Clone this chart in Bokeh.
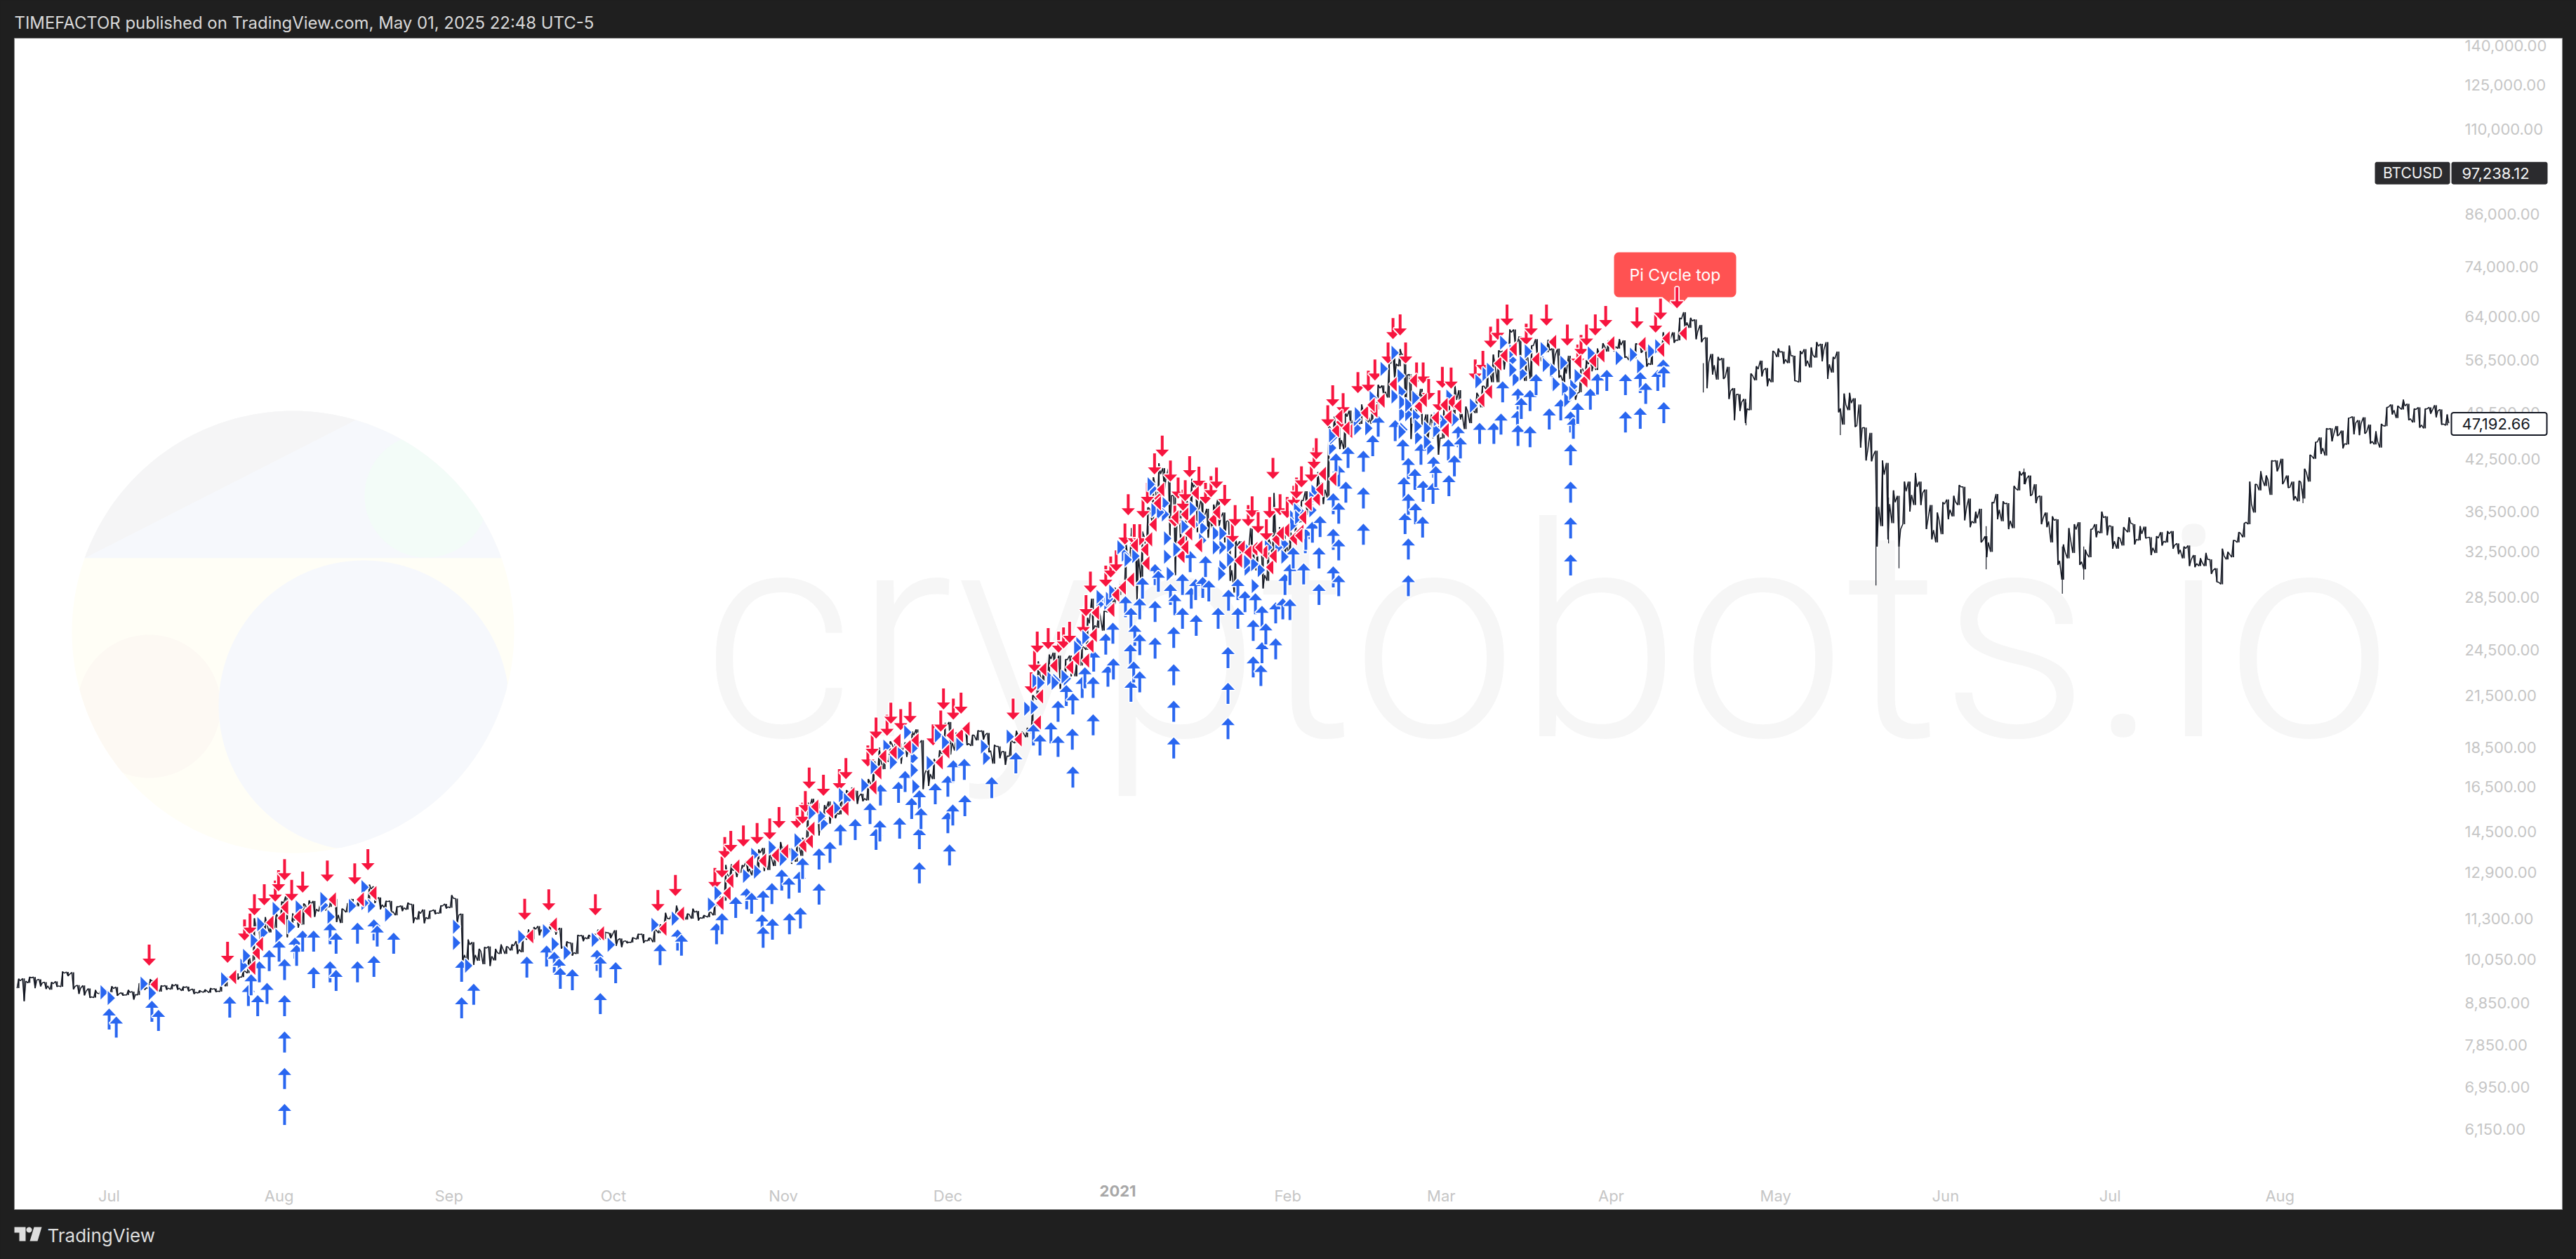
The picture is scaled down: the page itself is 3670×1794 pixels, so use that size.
import math
import numpy as np
from bokeh.plotting import figure
from bokeh.embed import file_html
from bokeh.resources import INLINE
from bokeh.core.properties import value
from bokeh.models import FixedTicker, NumeralTickFormatter, ColumnDataSource

# ---------------- price data (daily range, first day = 2020-06-14, day 0 = 2020-07-01) ----------------
first_day = -17
day_low = [
 9240,8900,9380,9240,9290,9220,9200,9280,9280,9570,9210,9090,9050,8990,8990,9090,9090,
 9130,9040,9050,9060,8940,9060,9200,9230,9170,9150,9200,9210,9200,9170,9160,9090,9110,9130,9120,9140,9150,9290,9460,9470,9540,9650,9880,10600,10860,10850,10980,
 11200,10700,11000,11000,11100,11530,11350,11530,11560,11680,11180,11150,11500,11630,11700,11700,11840,11810,11600,11650,11480,11400,11540,11590,11150,11260,11140,11280,11440,11460,11630,
 11650,11150,9960,10000,9880,10000,9900,9850,10010,10200,10200,10300,10200,10250,10630,10640,10760,10810,10890,10780,10360,10350,10150,10200,10580,10650,10650,10630,10650,10670,
 10440,10400,10520,10540,10640,10530,10590,10550,10830,11050,11280,11200,11370,11260,11290,11230,11300,11340,11400,11700,11890,12700,12730,12890,12900,12790,13060,12950,12990,13140,13420,
 13600,13220,13300,13530,14100,15200,14350,14720,14850,15080,15250,15470,15990,15720,15840,15880,16430,17200,17370,17750,18380,17650,18000,18050,18480,16400,16550,16880,17570,18180,
 18120,18330,18900,18620,18580,18880,18920,18240,17650,17930,17590,18030,18730,19000,19050,19280,21240,22330,22770,23060,21900,22350,22700,22700,23420,24500,25800,26100,25900,27320,27950,
 28700,29000,32000,28100,29900,32500,35500,36600,38700,34000,30400,32500,32400,36700,34400,35400,33850,34800,35000,33400,29900,28900,31400,30900,31900,30800,29250,29900,31950,32800,32200,
 32300,33400,35400,36150,36600,38000,37300,38000,45000,43700,43700,46200,46200,47000,45600,47000,49000,50900,50700,53200,55500,47600,45000,47100,46700,44200,45100,43000,
 45100,47100,47850,47600,46300,47100,48500,49300,51900,53000,53000,55000,56100,59000,54600,53200,53300,57000,56300,57800,55500,53700,53000,52900,50400,51500,53900,54700,54900,57000,57900,
 57900,58400,56900,56500,56800,57700,55450,55750,57700,58000,59200,59400,59800,61300,62000,60000,59500,52100,54200,53400,53500,50500,47500,48800,47100,48900,53300,53900,52400,53000,
 57000,55900,56000,53200,53000,55500,55300,56900,56300,53500,54500,48600,46900,48900,46600,43900,42300,42200,33000,35000,33700,35300,33000,35200,36500,37200,37200,34700,33700,33400,34200,
 35700,36000,37200,35600,34900,35300,33400,32000,32500,35700,35500,34700,34800,38800,39500,38200,37400,35200,34900,33400,31300,30000,31900,32400,31300,30900,32000,33900,34300,34100,
 32800,32800,33100,34400,33200,33600,33800,32200,32400,33100,33400,32800,32300,31900,31200,31100,31200,31200,30500,29800,29600,31800,32000,33400,33900,35200,36400,38800,39300,38300,41000,
 39500,39100,37700,37600,37900,39800,42500,43100,42900,44700,45400,43800,44300,45600,45500,45700,44400,44300,43900,46700,48300,47800,49000,47500,47200,46500,46400,48400,47900,46900,46800,
]
day_high = [
 9490,9500,9540,9540,9480,9400,9400,9420,9690,9680,9670,9320,9310,9230,9190,9240,9200,
 9290,9270,9120,9190,9150,9370,9370,9480,9450,9310,9310,9340,9340,9280,9280,9220,9180,9200,9240,9230,9410,9540,9620,9640,9730,10200,11300,11250,11340,11170,11450,
 11860,12050,11460,11400,11790,11900,11880,11800,11800,12050,11950,11620,11800,11950,11980,11950,12450,12390,12000,11880,11880,11690,11720,11820,11770,11530,11590,11540,11580,11720,11780,
 12080,11960,11450,10630,10550,10350,10400,10420,10350,10480,10420,10480,10580,10760,10940,11020,11050,11020,11170,11050,10990,10570,10530,10770,10760,10770,10800,10940,10860,10830,
 10920,10660,10590,10690,10800,10800,10680,10960,11100,11480,11400,11720,11540,11450,11620,11540,11400,11500,11800,12030,13180,13200,13020,13170,13340,13230,13780,13840,13620,13680,14080,
 13900,13820,14070,14250,15770,15950,15750,15660,15830,15480,15980,16350,16480,16320,16180,16880,17850,18480,18180,18820,18970,18700,18770,19370,19480,18880,17450,17890,18340,19850,
 19900,19300,19530,19530,19170,19420,19410,19280,18630,18550,18280,18930,19400,19350,19570,21500,23700,23280,24170,24300,24100,23840,24100,23800,24780,26870,28400,27500,27400,29000,29300,
 29600,33300,34800,33600,34450,36940,40300,41950,41370,41300,38200,36600,37800,40100,39700,37900,36800,37250,37800,36400,35600,33800,33500,32900,34800,32900,32550,33800,38500,34900,34300,
 34700,35900,37700,38700,38300,40900,39700,46750,48000,47300,48700,48850,48000,49700,49000,50500,52600,52500,56300,57500,58300,57500,54200,51300,52000,48300,48300,46700,
 49800,50200,52600,51800,49400,49200,51400,52400,54900,57400,58100,58000,61700,61700,60500,56900,58900,60000,59400,59900,58400,58400,55800,57200,53200,55400,56500,56600,58400,59300,59800,
 59500,60000,59800,58500,59250,59500,58600,58200,58900,61200,60700,61200,63800,64850,63800,63500,62500,60300,57500,57000,56800,55400,52100,51200,50500,54350,55500,56400,55200,58000,
 58400,57900,58900,57200,58000,58300,58600,59500,59200,59500,57000,57900,51300,51400,50600,49700,46500,45800,43500,42300,42000,38800,38200,39800,39800,40800,39800,38900,37200,36400,37500,
 37800,38200,39400,39200,37900,36500,36800,34000,37500,38400,37600,37400,39300,41000,40900,40500,39500,38200,36400,36000,35700,33200,34800,35200,35400,32700,34700,35200,36500,36000,
 35000,33900,34900,35900,35200,35000,34950,33900,34000,34400,34500,34500,33300,33000,33100,32200,31900,32400,31800,31000,32800,32500,33600,34400,35300,39800,39500,41000,40500,42300,42300,
 42500,40500,39800,39900,41300,43000,44600,45200,46400,46400,46700,46100,47800,48000,47500,47900,46900,46000,47000,49300,49700,49500,50400,49800,49100,49300,49100,49300,49600,49000,48300,
]
day_close = [
 9440,9430,9520,9460,9380,9300,9360,9300,9650,9620,9290,9240,9160,9010,9110,9190,9140,
 9230,9090,9060,9130,9070,9340,9250,9430,9240,9290,9240,9300,9240,9260,9190,9130,9150,9170,9210,9160,9390,9520,9580,9540,9700,9930,11030,10910,11100,11110,11350,
 11800,11070,11230,11190,11740,11770,11600,11750,11680,11880,11410,11580,11780,11770,11870,11900,12300,11950,11750,11860,11520,11680,11650,11770,11330,11460,11330,11540,11480,11710,11680,
 11970,11410,10170,10470,10170,10280,10370,10130,10240,10360,10400,10440,10330,10680,10790,10950,10940,10940,11080,10920,10420,10530,10240,10740,10690,10730,10780,10700,10840,10780,
 10620,10570,10550,10670,10790,10600,10670,10920,11060,11300,11370,11540,11430,11430,11500,11320,11370,11500,11750,11910,12820,12970,12930,13120,13030,13070,13650,13270,13460,13560,13800,
 13760,13550,14030,14150,15590,15580,14840,15480,15330,15300,15700,16280,16320,16070,15960,16730,17660,17780,17820,18680,18710,18420,18370,19160,18720,17150,17130,17720,18180,19700,
 18760,19220,19440,18700,19150,19370,19170,18320,18550,18260,18040,18800,19170,19270,19440,21380,22830,23130,23870,23480,22740,23820,23250,23720,24690,26450,26280,27040,27370,28840,29000,
 29370,32190,33000,31990,33990,36820,39460,40670,40240,38240,35540,34010,37390,39150,36770,36020,35800,36630,35910,35470,30830,33000,32090,32270,32250,32510,30400,33400,34270,34300,33110,
 33520,35510,37660,36950,38290,39260,38880,46450,46500,44850,47990,47370,47190,48590,47910,49130,52120,51550,55920,55890,57410,54100,48880,49700,47060,46340,46190,45140,
 49590,48440,50360,48370,48760,48880,50970,52390,54880,55850,57800,57230,61190,59000,55640,56910,58910,57660,58080,58100,57350,54080,54340,52300,51310,55070,55840,55780,57620,58790,58800,
 58730,58980,57060,58200,59130,58030,55950,58090,58090,59770,60010,59860,63580,62980,63220,61370,60060,56150,55660,56470,53800,51700,51150,50050,49100,54020,55040,54880,53580,57800,
 57800,56600,57200,53200,57500,56400,57300,58800,58200,55800,56700,49150,49700,49900,46760,46450,43550,42900,37000,40600,37300,37500,34700,38700,38300,39200,38500,35700,34600,35650,37300,
 36700,37550,39200,36850,35500,35800,33600,33400,37400,36700,37340,35550,39020,40520,40160,38350,38050,35820,35480,35600,31680,32500,33680,34660,31590,32280,34700,34500,35870,35040,
 33520,33800,34650,35290,33690,34220,33860,32880,33810,33510,34240,33150,32690,32820,31780,31420,31530,31800,30820,29790,32130,32290,33580,34290,35400,37280,39460,40020,40030,42210,41460,
 39850,39150,38150,39740,40890,42830,44610,43830,46280,45590,45570,44400,47830,47110,47050,45930,44690,44710,46760,49340,48900,49280,49500,47700,48990,46850,49070,48900,48810,46990,47110,
]
# thin wicks: day, upper end of wick, lower end of wick
wick_day  = [290.8, 298.6, 315.8, 322.3, 324.6, 326.5, 342.4, 349.3, 356.3, 360.2, 400.2]
wick_from = [56000, 50000, 49000, 37000, 38000, 36000, 35000, 41330, 33000, 33000, 39000]
wick_to   = [51450, 46800, 45500, 29500, 33300, 31000, 30900, 39500, 28800, 30000, 37400]

# ---------------- signals ----------------
red_arrow_day = [7.3,21.6,24.7,25.7,26.5,28.3,30.3,30.9,32.0,33.3,35.3,39.8,44.8,47.2,75.8,80.2,88.7,100.1,103.3,110.5,111.8,112.3,113.4,115.7,118.2,120.5,122.2,125.5,126.5,127.0,127.7,130.3,133.2,134.4,138.4,139.2,139.9,141.9,142.6,144.4,146.1,150.3,151.7,152.2,154.0,155.4,164.9,168.2,168.8,169.3,171.3,173.2,174.1,175.2,177.7,178.2,179,181.8,182.7,183.7,185.3,187,188,185.9,188.6,189.4,190.7,192.1,193.6,194.4,195,195.9,196.3,197.1,198.8,200,201,202,203.5,204.9,205.4,207.8,208.5,209.6,211.1,211.7,212.3,213.6,214.9,216.1,216.6,217.5,219.3,219.8,220.2,222.3,223.2,225.1,227.8,229.7,230.9,233.3,236.5,234.2,235.5,238.5,239.7,240.7,242.6,243.2,244.8,249.2,250.6,252,253.3,255,258.5,259.4,262.2,266,267.9,268.5,269.5,271.1,273,278.7,282.1,283,286]
red_arrow_price = [9860,9940,10600,10780,11400,11734,11856,12220,12610,11880,12170,12560,12460,12980,11250,11560,11400,11540,12050,12300,12710,13440,13680,13900,14000,14180,14660,14660,14840,15350,16420,16090,16350,16880,17500,18050,18970,19120,19800,19440,19840,18600,19360,20630,20040,20380,20040,21610,23000,24300,24550,24300,24600,25000,25640,27000,28900,29390,30180,30720,33190,33120,33120,36120,35830,37320,40630,42770,39800,34940,37900,36600,37600,40300,39100,37320,38050,39000,37100,33340,35000,35000,35900,34300,33600,35830,40100,36120,35830,37000,37900,39140,39800,41290,42440,46680,49440,48330,51350,51550,53250,55930,55930,60020,60640,52800,52800,50340,48730,52140,52030,53250,54590,58550,59900,62380,59040,60640,62380,58910,55590,57150,58910,60640,62130,61900,61150,63480,65600]

blue_arrow_day = [0,1.3,7.8,9,22,25.4,25.9,27.1,28.8,32,32,32,32,32,27.4,29.2,31,33.9,34.2,35.3,37.3,37.3,40.3,40.3,41.4,41.4,45.3,45.3,48.3,48.3,48.9,51.9,64.3,64.3,66.5,76.2,79.8,81.2,82.1,82.3,84.5,89,89.6,89.6,92.4,100.5,103.7,104.4,110.8,111.8,114.3,116.3,117.2,119.1,119.3,119.3,120.9,121,122.7,124,124.1,125.9,126.1,126.5,129.5,129.5,131.5,133.4,136.1,138.8,139.9,140.6,140.7,144,144.2,145.2,146.4,147.8,147.8,147.8,148.1,150.7,153,153,153.3,153.9,154,156,156.1,161,165.4,168.6,169.8,171.8,173.1,173.1,174.6,175.7,175.8,175.8,177.5,178,179.5,179.5,179.6,181.8,182.2,183.1,183.2,185.4,186.3,186.4,186.4,186.9,187.1,188,188,188,188.5,190.8,190.8,190.8,191.4,193.6,194.2,194.2,194.2,194.2,194.4,195.8,195.8,197.2,197.4,198.2,198.3,199.5,200,200.6,202.3,204.1,204.1,204.1,204.2,205.9,205.9,207.2,208.7,208.7,209.1,210.1,210.3,210.3,211,212.8,212.8,214.1,214.5,215.4,215.4,216,217.9,218.2,218.3,219.5,220.7,220.7,220.9,223.3,223.3,223.3,224.3,224.3,224.3,224.3,223.8,225.6,226,228.8,228.8,228.8,230.5,231.5,234.6,236,236.2,236.4,237,237,237,237,238.2,238.3,239.3,239.6,239.7,241.5,241.6,242,244.3,244.4,245.4,246.1,246.5,250,252.6,253.9,254.2,256.9,257,257,257.6,259.2,259.2,260.3,262.7,264.8,266.6,266.6,266.6,266.6,266.6,267.1,267.9,270.2,271.5,273.2,276.6,276.6,279.3,279.3,280.3,282.5,283.5,283.6,283.6]
blue_arrow_price = [8714,8516,8912,8680,9020,9326,9616,9056,9380,10050,9056,8156,7340,6620,9984,10314,10600,10690,10470,10910,10910,9820,11140,9984,10840,9740,11160,9984,11270,10140,11070,10840,10000,9000,9360,10120,10450,10260,10060,9800,9760,10320,10120,9110,9960,10490,10940,10780,11140,11470,12020,12320,12170,11430,12240,11030,12510,11290,13010,12710,11470,12930,11660,13450,13820,12490,14090,14820,15050,15760,14630,14990,16620,16750,15110,17280,15990,16350,14660,13280,15530,16680,17050,15350,13980,15690,17830,17900,16120,16980,18240,19760,19200,19880,21160,19120,22150,19520,21610,17500,22670,23310,22670,20350,24450,25680,23410,26500,23900,28600,24900,27660,22410,23700,26340,28430,25640,23040,30180,31370,28210,25390,30780,29630,26180,23510,21160,19040,28780,30500,27660,32580,29320,30060,27110,30240,32110,29930,27660,24700,22280,20130,29150,30060,27660,29030,26720,24050,28850,23460,27820,25050,26450,28100,25340,28430,30500,28370,31370,32920,31440,34400,34740,35470,32920,29630,36050,38500,34740,31170,41700,37460,33700,30400,43180,39800,44000,43500,39140,35240,45500,48130,47520,44950,40300,36350,42600,38430,33790,30400,41290,37390,44400,35980,39890,39650,42770,41620,44950,40550,42940,46690,45200,47140,47140,48430,53140,48820,46870,52060,50650,46690,51820,54260,49130,50440,48730,44320,39800,35900,32270,47830,49940,52030,54350,54920,54260,48730,49230,54590,52920,54920,56600,55480,50040]

red_tri_day = [8.2,22.5,26,26.8,27.4,29.3,31.4,32,34.3,36.2,40.7,45.8,48.1,76.7,81,89.6,101,104.2,111.4,112.7,113.2,114.3,116.8,119.2,121.5,123.2,126.5,127.7,128,128.7,131.4,134.2,135.3,139.3,140.2,141.1,143,143.7,145.6,147,151.4,152.6,153.4,155.1,156.3,165.8,169.3,169.7,170.3,172.3,175.2,176.3,178.1,178.9,179.5,179.9,182.7,183.6,184.8,186.3,187,188.9,189.1,189.6,190.4,191.3,191.8,195.5,195.5,196.2,196.9,197.4,198.1,201.3,202,206,206.5,208.8,210.6,211.7,212.3,212.8,214.6,216,217.2,217.7,218.7,220.2,220.8,221.3,223.2,223.7,224.5,226.1,229,230.7,232,234.2,238.8,241.9,243.7,244.2,244.8,246,250.2,251.6,253.3,254.4,256.1,260.2,263.3,267.9,269,269.5,270.6,272.1,273.9,279.6,283,284,287.1,
 191.2,194.4,198.7,196.2,207.7,209.7,213.6,217,224.3,225.6,230.2,237.9,239.7,243.5]
red_tri_price = [9340,9540,9800,10230,10490,11160,11310,11660,11350,11540,11930,11930,12150,10730,11100,10820,10970,11450,11810,12150,12590,13120,13280,13340,13550,13710,13950,14120,14630,15590,15380,15500,16150,16480,17210,18020,18240,18850,18540,18880,17720,18280,19150,19150,19520,18930,19880,21430,23160,23410,23310,23900,23760,24800,25570,27270,27500,28720,29320,30000,33120,32720,31440,33700,35160,37900,38900,32110,33390,36200,34270,35460,38500,35680,36420,31700,32920,32780,32450,31090,32110,33700,34570,33790,34440,35900,37320,37860,38900,40700,40100,46130,47230,46040,48530,48820,50240,52700,49440,47830,46130,47930,50040,49440,50340,51550,55930,57260,58300,56600,59530,56260,53250,54350,56370,57260,59290,59160,58180,60140,61020,
 37390,35900,33120,32920,32450,32920,34270,34050,48020,46410,49640,53250,50340,49640]

blue_tri_day = [-0.9,0.4,7.9,21.1,24.6,25.1,26.5,28.3,30.5,31,33.3,34.7,39.3,40.5,44.4,47.9,51,63.4,63.4,65.6,75.3,79.8,81.4,83.6,88.7,91.6,99.6,103.3,109.9,111.1,116.3,118.3,123,125.1,125.7,130.5,132.8,137.9,139.6,143.1,144.4,146.9,146.9,147.2,149.8,160.1,164.4,167.6,169.1,172.9,174.8,177.1,180.9,182.2,185.4,187.3,190.5,192.7,192.7,193.6,194.8,197.8,199.7,203.2,203.2,207.7,207.8,209.1,210.2,214.5,216.1,219.6,217.3,223.2,223.4,227.8,230.6,232.6,234.6,235.7,236,236.2,237.1,238.5,238.9,241.1,242.2,243.5,245.6,248.9,249.9,254.4,256.1,256.7,258,262.1,263.5,263.8,264,265.4,265.7,266.1,267.2,268,270.4,275.5,278.1,279.4,281.4,282.7,
 184.6,185.9,190.8,190.1,191.8,193.1,193.1,196.3,198.1,199.5,199.4,202,202,203.2,204.6,204.6,203,207.7,209,211.5,213.4,214.5,216.8,220,219.6,216.1,217,171.8,172.6,170,174.4,176.7,178.2,180.8,182.5,183.1,180.8,223.2,227.7,227.9,229.8,234.6,235.9,236,237.1,238.4,235.9,238.8,240.5,240.5,242.3,244.6,251.2,252,256.1,256.1,258,258.9,261.8,262.2,267,117.8,121,128.3,130,133.8,134.7,141.9,145.7,147,151.3,152.6,155.2,159.7,168.8,27.7,39.2,46.7,46.7,6.4]
blue_tri_price = [9130,8980,9110,9480,9860,10140,10600,10840,11610,10750,11030,11660,11730,11350,11710,11710,11420,11030,10530,9860,10710,10890,10490,10230,10620,10470,11090,11290,11760,12150,12770,12930,13410,13570,14150,14840,15530,16580,17470,17720,18200,17940,17320,16520,17680,17940,19080,20680,22410,22410,22550,24900,28240,28060,32250,32110,39000,37390,36200,30500,32720,36800,34800,32920,31090,32720,30960,29450,30840,33260,35900,36650,36580,43850,45200,46410,50650,55080,57680,53950,48330,46230,48330,48020,45200,43860,46130,47320,47620,49540,53140,59410,56490,53480,54350,56050,54920,52920,52700,56050,52030,50340,52360,53950,57590,56820,57370,55480,57930,58780,
 32920,31770,36650,39480,36420,33790,32040,34940,35160,33590,35900,34270,32920,34270,33120,31770,30500,31570,31370,32920,32920,32040,36650,38650,37900,35160,35900,22550,22280,22280,22670,24650,25400,27940,28370,28970,28540,45470,47620,48330,46410,50850,51550,50040,49640,50650,45950,46690,46410,44600,47620,50850,54260,54920,57930,54920,56050,57930,58300,55710,51350,13570,13860,15320,15170,16120,15890,18540,19320,18490,19150,18770,18660,18540,20760,11110,11950,12360,11810,9360]

# ---------------- axis labels ----------------
price_ticks = [140000,125000,110000,86000,74000,64000,56500,48500,42500,36500,32500,28500,24500,21500,18500,16500,14500,12900,11300,10050,8850,7850,6950,6150]
month_days = [0,31,62,92,123,153,215,243,274,304,335,365,396]
month_labels = ["Jul","Aug","Sep","Oct","Nov","Dec","Feb","Mar","Apr","May","Jun","Jul","Aug"]
year_day = 184
year_label = "2021"
last_price = 47192.66
symbol_price = 97238.12

# ---------------- page geometry of the reference ----------------
W, H = 3670, 1794
FRAME_L, FRAME_R, FRAME_T, FRAME_B = 20, 3650, 54, 1723
PX_PER_DAY = 7.81
PX_PER_LN = 494.3
def X(px): return (px - 155) / PX_PER_DAY
def Y(py): return math.exp(math.log(140000) - (py - 64) / PX_PER_LN)
def sy(v): return 64 + (math.log(140000) - math.log(v)) * PX_PER_LN

DARK = "#1f1f1f"
RED = "#F7153F"
BLUE = "#2966F0"
BLACK = "#131722"
GREY = "#c6c6c6"
FONT = "Inter"

p = figure(width=W, height=H, x_range=(X(0), X(W)), y_range=(Y(H), Y(0)),
           y_axis_type="log", y_axis_location="right", output_backend="svg", toolbar_location=None,
           min_border=0, background_fill_color=DARK, border_fill_color=DARK, outline_line_color=None)
p.grid.visible = False

p.yaxis.ticker = FixedTicker(ticks=price_ticks)
p.yaxis.formatter = NumeralTickFormatter(format="0,0.00")
p.yaxis.fixed_location = X(3505)
p.yaxis.major_label_standoff = 0
p.xaxis.ticker = FixedTicker(ticks=month_days)
p.xaxis.major_label_overrides = dict(zip(month_days, month_labels))
p.xaxis.fixed_location = Y(1684)
p.xaxis.major_label_standoff = 0
for ax in (p.xaxis, p.yaxis):
    ax.axis_line_color = None
    ax.major_tick_line_color = None
    ax.minor_tick_line_color = None
    ax.major_label_text_color = GREY
    ax.major_label_text_font = FONT
    ax.major_label_text_font_size = "22px"

# ---------------- white chart panel ----------------
p.patch([X(a) for a in (FRAME_L, FRAME_R, FRAME_R, FRAME_L)], [Y(b) for b in (FRAME_T, FRAME_T, FRAME_B, FRAME_B)],
        fill_color="white", line_color="#8a8a8a", line_width=1)

# ---------------- watermark ----------------
def circle_pts(cx, cy, r, n=160):
    t = np.linspace(0, 2*np.pi, n, endpoint=False)
    return cx + r*np.cos(t), cy + r*np.sin(t)
def wm(px, py, color):
    p.patch([X(a) for a in px], [Y(b) for b in py], fill_color=color, line_color=None)
CX, CY, R = 417, 900, 315
def inside(x, y):
    dx, dy = x - CX, y - CY
    d = np.hypot(dx, dy)
    f = np.minimum(1.0, R / d)
    return CX + dx*f, CY + dy*f
cx_, cy_ = circle_pts(CX, CY, R, 240)
wm(cx_, cy_, "#fffef6")
top = cy_ <= 795
order = np.argsort(np.arctan2(cy_[top]-795, cx_[top]-CX))
wm(cx_[top][order], cy_[top][order], "#f6f8fc")
wedge = (cy_ <= 795) & (cx_ <= 510)
wp = np.argsort(np.arctan2(cy_[wedge]-795, cx_[wedge]-510))
wm(cx_[wedge][wp], cy_[wedge][wp], "#f5f5f6")
tx, ty = inside(*circle_pts(607, 706, 88))
ty = np.minimum(ty, 795)
wm(tx, ty, "#f3fcf8")
ox, oy = inside(*circle_pts(212, 1006, 102))
wm(ox, oy, "#fdf9f3")
bx, by = inside(*circle_pts(518, 1005, 207))
wm(bx, by, "#f6f8fc")
p.text(x=[X(1000)], y=[Y(905)], text=["cryptobots.io"], text_font=value("Roboto Light"), text_font_size="420px",
       text_color="#f6f6f6", text_baseline="alphabetic", text_align="left")

# ---------------- price line ----------------
xs_line, ys_line = [], []
prev = day_close[0]
for i, (lo, hi, cl) in enumerate(zip(day_low, day_high, day_close)):
    d = first_day + i
    a, b = (lo, hi) if cl >= prev else (hi, lo)
    xs_line += [d + 0.2, d + 0.5, d + 0.8]
    ys_line += [a, b, cl]
    prev = cl
p.line(xs_line, ys_line, line_color=BLACK, line_width=1.5)
bar_x = [first_day + i + 0.5 for i in range(len(day_low))]
p.segment(x0=bar_x, y0=day_low, x1=bar_x, y1=day_high, line_color=BLACK, line_width=1.9)
p.segment(x0=wick_day, y0=wick_from, x1=wick_day, y1=wick_to, line_color=BLACK, line_width=1.2)

# ---------------- helpers for shapes that keep their size in pixels ----------------
def rrect(x0, y0, x1, y1, r, pointer=None):
    xs, ys = [], []
    corners = [(x1-r, y0+r, -90), (x1-r, y1-r, 0), (x0+r, y1-r, 90), (x0+r, y0+r, 180)]
    for k, (cx, cy, a0) in enumerate(corners):
        for a in np.linspace(a0, a0+90, 6):
            xs.append(cx + r*math.cos(math.radians(a)))
            ys.append(cy + r*math.sin(math.radians(a)))
        if k == 1 and pointer:
            xs += [pointer[2], pointer[1], pointer[0]]
            ys += [y1, pointer[3], y1]
    return xs, ys

def to_data(pxs, pys):
    return [X(a) for a in pxs], [Y(b) for b in pys]

def arrow_shape(d, v, direction):
    """Arrow whose tip sits at (d, v); direction +1 = tip on top (up arrow), -1 = tip at bottom."""
    hw, hh, sw, total = 9.5, 10.0, 2.0, 30.0
    dx = [0, hw, sw, sw, -sw, -sw, -hw]
    dy = [0, hh, hh, total, total, hh, hh]
    return ([d + a/PX_PER_DAY for a in dx],
            [v * math.exp(-direction * b / PX_PER_LN) for b in dy])

def tri_shape(d, v, direction):
    """Triangle centred on (d, v); direction +1 points right, -1 points left."""
    w, h = 5.2, 10.2
    dx = [direction*w, -direction*w, -direction*w]
    dy = [0, h, -h]
    return ([d + a/PX_PER_DAY for a in dx],
            [v * math.exp(-b / PX_PER_LN) for b in dy])

def draw(days, prices, shape, direction, color):
    xs, ys, la = [], [], []
    for d, v in zip(days, prices):
        a, b = shape(d, v, direction)
        xs += [a, a]; ys += [b, b]; la += [1.0, 0.0]
    src = ColumnDataSource(dict(xs=xs, ys=ys, la=la))
    p.patches(xs="xs", ys="ys", source=src, fill_color=color, line_color="white", line_width=3.5, line_alpha="la")

# ---------------- Pi cycle label under the signals ----------------
bx_, by_ = rrect(2299, 359, 2473, 423, 7, pointer=(2368, 2389, 2404, 440))
bx2, by2 = to_data(bx_, by_)
p.patch(bx2, by2, fill_color="#FF5252", line_color=None)
p.text(x=[X(2386)], y=[Y(391)], text=["Pi Cycle top"], text_font=value(FONT), text_font_size="23px",
       text_color="white", text_align="center", text_baseline="middle")

draw(blue_arrow_day, blue_arrow_price, arrow_shape, 1, BLUE)
draw(red_arrow_day, red_arrow_price, arrow_shape, -1, RED)
draw(blue_tri_day, blue_tri_price, tri_shape, 1, BLUE)
draw(red_tri_day, red_tri_price, tri_shape, -1, RED)

# ---------------- bold year label ----------------
p.text(x=[year_day], y=[Y(1696)], text=[year_label], text_font=value(FONT), text_font_size="22px",
       text_font_style="bold", text_color="#a8a8a8", text_align="center", text_baseline="middle")

# ---------------- price tags ----------------
def tag(x0, x1, yc, fill, line=None, lw=0):
    a, b = rrect(x0, yc-16, x1, yc+16, 3)
    a, b = to_data(a, b)
    p.patch(a, b, fill_color=fill, line_color=line, line_width=lw, level="overlay")
ytag = sy(symbol_price) + 2
tag(3383, 3490, ytag, "#2b2b2e")
tag(3492, 3629, ytag, "#2b2b2e")
p.text(x=[X(3437)], y=[Y(ytag)], text=["BTCUSD"], text_font=value(FONT), text_font_size="21px", text_color="#f2f2f2",
       text_align="center", text_baseline="middle", level="overlay")
p.text(x=[X(3507)], y=[Y(ytag)], text=["97,238.12"], text_font=value(FONT), text_font_size="22px", text_color="#f2f2f2",
       text_align="left", text_baseline="middle", level="overlay")
ylast = sy(last_price) + 2
tag(3492, 3628, ylast, "white", BLACK, 2)
p.text(x=[X(3507)], y=[Y(ylast)], text=["47,192.66"], text_font=value(FONT), text_font_size="22px", text_color=BLACK,
       text_align="left", text_baseline="middle", level="overlay")

# ---------------- header and footer on the dark band ----------------
p.text(x=[X(20)], y=[Y(32)], text=["TIMEFACTOR published on TradingView.com, May 01, 2025 22:48 UTC-5"],
       text_font=value(FONT), text_font_size="23.9px", text_color="#d9d9d9", text_baseline="middle", text_align="left")
p.text(x=[X(67)], y=[Y(1760)], text=["TradingView"],
       text_font=value(FONT), text_font_size="26px", text_color="#dedede", text_baseline="middle", text_align="left")
LOGO = "#dedede"
def logo(xs, ys):
    a, b = to_data(xs, ys)
    p.patch(a, b, fill_color=LOGO, line_color=None)
logo([20,36,36,27,27,20], [1748,1748,1768,1768,1756,1756])
tt = np.linspace(0, 2*np.pi, 24, endpoint=False)
logo(list(41+4*np.cos(tt)), list(1752+4*np.sin(tt)))
logo([48,59,53,42], [1748,1748,1768,1768])

html = file_html(p, INLINE)
html = html.replace("</head>", "<style>html,body{background:%s;margin:0;padding:0;overflow:hidden}</style></head>" % DARK, 1)
open("out.html", "w").write(html)
